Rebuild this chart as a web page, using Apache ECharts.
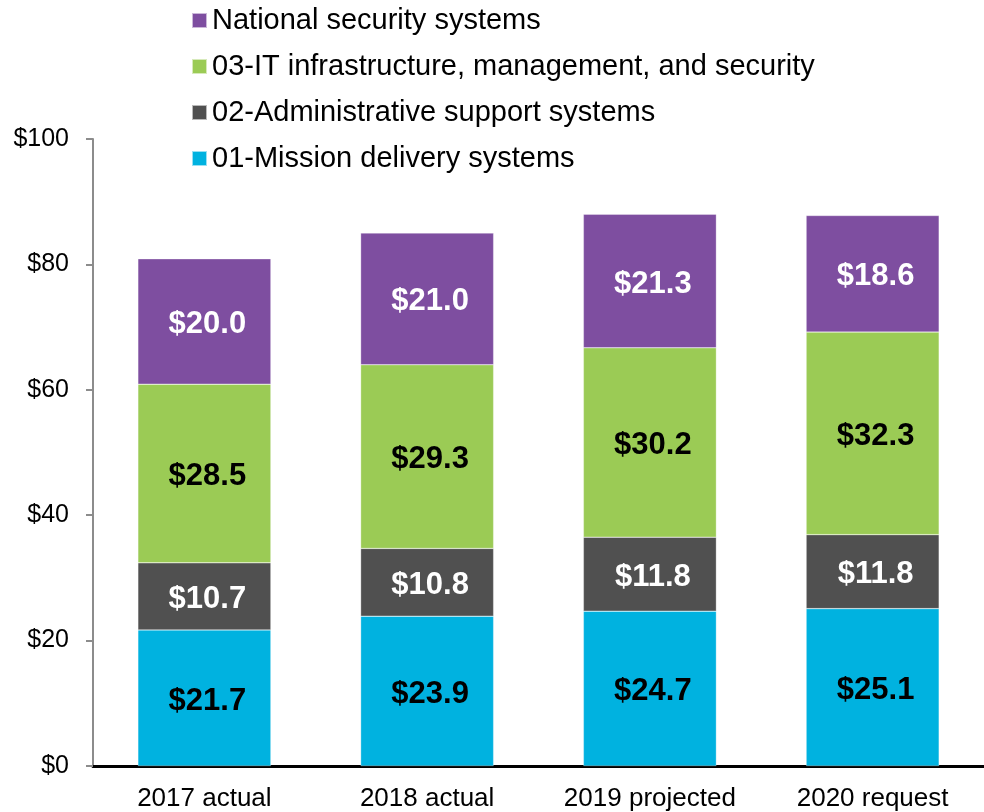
<!DOCTYPE html>
<html><head><meta charset="utf-8">
<script src="https://cdn.jsdelivr.net/npm/echarts@6/dist/echarts.min.js"></script>
<style>html,body{margin:0;padding:0;background:#fff}#c{width:984px;height:812px}</style>
</head><body><div id="c"></div>
<script>
const categories = ['2017 actual', '2018 actual', '2019 projected', '2020 request'];
const mission = [21.7, 23.9, 24.7, 25.1];
const admin = [10.7, 10.8, 11.8, 11.8];
const itInfra = [28.5, 29.3, 30.2, 32.3];
const natSec = [20.0, 21.0, 21.3, 18.6];
const seriesNames = ['01-Mission delivery systems', '02-Administrative support systems', '03-IT infrastructure, management, and security', 'National security systems'];
const yTicks = [0, 20, 40, 60, 80, 100];

const colors = ['#00B2E0', '#505050', '#9BCB55', '#7E4EA0'];
const labelColors = ['#000', '#fff', '#000', '#fff'];
const dataSets = [mission, admin, itInfra, natSec];

const chart = echarts.init(document.getElementById('c'));
chart.setOption({
  animation: false,
  textStyle: { fontFamily: 'Liberation Sans, Arial, sans-serif' },
  grid: { left: 93, right: -10, top: 139, bottom: 43, containLabel: false },
  legend: {
    orient: 'vertical', left: 186, top: 1,
    data: seriesNames.slice().reverse(),
    itemWidth: 15, itemHeight: 15, itemGap: 17,
    icon: 'rect',
    textStyle: { fontSize: 29, color: '#000' }
  },
  xAxis: {
    type: 'category', data: categories,
    axisLine: { lineStyle: { color: '#000', width: 3 } },
    axisTick: { show: false },
    axisLabel: { fontSize: 26, color: '#000', margin: 20, interval: 0 }
  },
  yAxis: {
    type: 'value', min: yTicks[0], max: yTicks[yTicks.length - 1], interval: 20,
    axisLine: { show: true, lineStyle: { color: '#8c8c8c', width: 2 } },
    axisTick: { show: true, length: 7, lineStyle: { color: '#8c8c8c', width: 2 } },
    splitLine: { show: false },
    axisLabel: { fontSize: 25, color: '#000', margin: 24, formatter: v => '$' + v }
  },
  series: dataSets.map((d, i) => ({
    name: seriesNames[i], type: 'bar', stack: 'total', barWidth: 133,
    data: d,
    itemStyle: { color: colors[i], borderColor: 'rgba(255,255,255,0.6)', borderWidth: 0.5 },
    label: {
      show: true, position: 'inside', offset: [3, 3], fontSize: 31, fontWeight: 'bold', color: labelColors[i],
      formatter: p => '$' + p.value.toFixed(1)
    }
  }))
});
</script></body></html>
